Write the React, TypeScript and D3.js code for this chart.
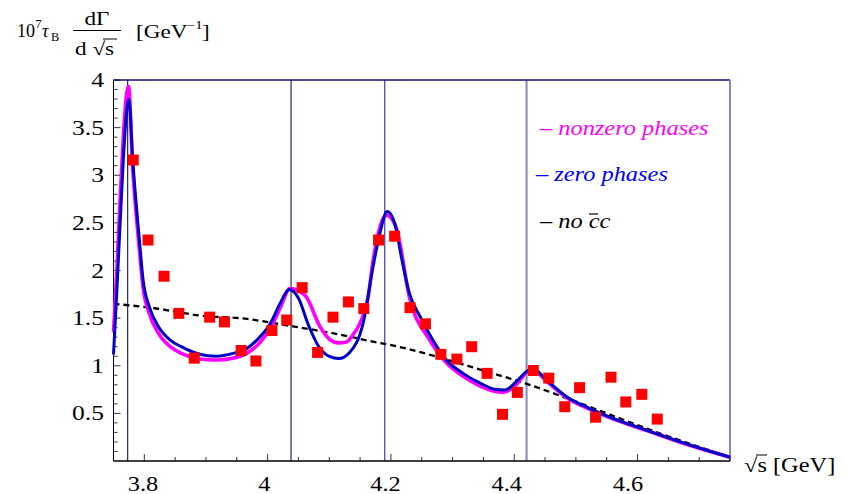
import React from "react";
import * as d3 from "d3";

// measured points (sqrt(s) in GeV, 10^7 tau_B dGamma/dsqrt(s))
const dataX = [3.782, 3.806, 3.832, 3.856, 3.881, 3.906, 3.930, 3.957, 3.981, 4.007, 4.031, 4.056, 4.081, 4.106, 4.131, 4.156, 4.180, 4.206, 4.231, 4.256, 4.281, 4.307, 4.331, 4.356, 4.381, 4.405, 4.431, 4.456, 4.482, 4.506, 4.532, 4.557, 4.581, 4.607, 4.632];
const dataY = [3.16, 2.32, 1.94, 1.55, 1.08, 1.51, 1.46, 1.16, 1.05, 1.37, 1.48, 1.82, 1.14, 1.51, 1.67, 1.60, 2.32, 2.36, 1.61, 1.44, 1.12, 1.07, 1.20, 0.92, 0.49, 0.72, 0.95, 0.87, 0.57, 0.77, 0.46, 0.88, 0.62, 0.70, 0.44];

// zero phases curve
const zeroX = [3.75, 3.7552, 3.7605, 3.7659, 3.7714, 3.7751, 3.781, 3.792, 3.798, 3.808, 3.823, 3.842, 3.86, 3.89, 3.915, 3.944, 3.966, 3.987, 4.005, 4.02, 4.035, 4.05, 4.066, 4.082, 4.101, 4.115, 4.133, 4.155, 4.171, 4.182, 4.194, 4.206, 4.217, 4.23, 4.247, 4.268, 4.29, 4.317, 4.344, 4.371, 4.385, 4.403, 4.42, 4.43, 4.452, 4.485, 4.522, 4.56, 4.614, 4.668, 4.711, 4.75];
const zeroY = [1.12, 1.76, 2.46, 3.16, 3.68, 3.80, 3.18, 2.32, 1.90, 1.62, 1.41, 1.27, 1.20, 1.12, 1.10, 1.13, 1.18, 1.30, 1.45, 1.65, 1.80, 1.71, 1.43, 1.21, 1.095, 1.075, 1.14, 1.45, 2.04, 2.39, 2.62, 2.50, 2.14, 1.76, 1.52, 1.27, 1.06, 0.92, 0.82, 0.75, 0.745, 0.83, 0.94, 0.97, 0.85, 0.675, 0.553, 0.448, 0.325, 0.203, 0.115, 0.04];

// nonzero phases curve
const phaseX = [3.75, 3.7552, 3.7605, 3.7659, 3.7714, 3.7745, 3.781, 3.792, 3.798, 3.808, 3.823, 3.842, 3.86, 3.89, 3.915, 3.944, 3.966, 3.987, 4.009, 4.022, 4.036, 4.045, 4.063, 4.085, 4.10, 4.115, 4.128, 4.139, 4.15, 4.163, 4.171, 4.187, 4.193, 4.209, 4.23, 4.263, 4.29, 4.317, 4.344, 4.37, 4.382, 4.403, 4.42, 4.43, 4.452, 4.485, 4.522, 4.56, 4.614, 4.668, 4.711, 4.75];
const phaseY = [1.35, 1.97, 2.71, 3.40, 3.86, 3.93, 3.10, 2.22, 1.82, 1.55, 1.34, 1.20, 1.13, 1.07, 1.06, 1.08, 1.13, 1.24, 1.45, 1.63, 1.81, 1.80, 1.72, 1.41, 1.28, 1.24, 1.25, 1.33, 1.45, 1.72, 2.10, 2.54, 2.58, 2.44, 1.72, 1.27, 1.03, 0.89, 0.79, 0.73, 0.72, 0.80, 0.93, 0.96, 0.84, 0.665, 0.545, 0.443, 0.322, 0.20, 0.113, 0.04];

// no c-cbar background
const bgX = [3.75, 3.81, 3.90, 3.955, 4.035, 4.13, 4.165, 4.19, 4.355, 4.42, 4.485, 4.55, 4.615, 4.69, 4.75];
const bgY = [1.65, 1.61, 1.52, 1.50, 1.42, 1.31, 1.26, 1.23, 0.94, 0.81, 0.66, 0.50, 0.34, 0.17, 0.04];

const resonances = [3.773, 4.038, 4.19, 4.42];
const xTicks = [3.8, 4, 4.2, 4.4, 4.6];
const yTicks = [0.5, 1, 1.5, 2, 2.5, 3, 3.5, 4];

const FONT = "'Liberation Serif', 'Times New Roman', serif";

const SText = ({ x, y, anchor = "start", size = 20, sx = 1.22, italic = false, fill = "#000", children }: any) => (
  <text
    transform={`translate(${x},${y}) scale(${sx},1)`}
    textAnchor={anchor}
    fontSize={size}
    fontStyle={italic ? "italic" : "normal"}
    fill={fill}
    fontFamily={FONT}
  >
    {children}
  </text>
);

export default function App() {
  const width = 846;
  const height = 494;
  const x = d3.scaleLinear().domain([3.75, 4.75]).range([113.5, 730]);
  const y = d3.scaleLinear().domain([0, 4]).range([461, 80]);
  // tick labels sit slightly left of their ticks in the original
  const xLab = d3.scaleLinear().domain([3.8, 4.6]).range([143, 628]);

  const line = d3
    .line<[number, number]>()
    .x((d) => x(d[0]))
    .y((d) => y(d[1]))
    .curve(d3.curveMonotoneX);

  const zip = (a: number[], b: number[]) => a.map((v, i) => [v, b[i]] as [number, number]);

  const xMinor = d3.range(3.75, 4.751, 0.05);
  const yMinor = d3.range(0.1, 4.001, 0.1);

  return (
    <svg
      width={width}
      height={height}
      style={{ position: "absolute", left: 0, top: 0, background: "#fff" }}
    >
      {/* resonance lines */}
      {resonances.map((r, i) => (
        <line
          key={i}
          x1={x(r)}
          x2={x(r)}
          y1={80}
          y2={461}
          stroke={i === 3 ? "#8585c8" : i === 2 ? "#2a2aa0" : "#10106e"}
          strokeWidth={i === 3 ? 2 : 1.1}
        />
      ))}
      {/* frame top and right */}
      <line x1={113.5} x2={730} y1={80} y2={80} stroke="#10106e" strokeWidth={1.5} />
      <line x1={730} x2={730} y1={80} y2={461} stroke="#8585c8" strokeWidth={2} />

      {/* axes */}
      <line x1={113.5} x2={113.5} y1={80} y2={461} stroke="#000" strokeWidth={1} />
      <line x1={113.5} x2={730} y1={461} y2={461} stroke="#000" strokeWidth={1.5} />
      {xMinor.map((t, i) => {
        const major = xTicks.some((m) => Math.abs(m - t) < 1e-6);
        return (
          <line key={i} x1={x(t)} x2={x(t)} y1={461} y2={461 - (major ? 7 : 4)} stroke="#000" strokeWidth={0.8} />
        );
      })}
      {yMinor.map((t, i) => {
        const major = yTicks.some((m) => Math.abs(m - t) < 1e-6);
        return (
          <line key={i} x1={113.5} x2={113.5 + (major ? 7 : 4)} y1={y(t)} y2={y(t)} stroke="#000" strokeWidth={0.8} />
        );
      })}
      {xTicks.map((t) => (
        <SText key={t} x={xLab(t)} y={491} anchor="middle">{String(t)}</SText>
      ))}
      {yTicks.map((t) => (
        <SText key={t} x={104} y={y(t) + 7} anchor="end" size={21}>{String(t)}</SText>
      ))}

      {/* curves */}
      <path d={line(zip(bgX, bgY)) || ""} fill="none" stroke="#000" strokeWidth={2.3} strokeDasharray="6 4" />
      <path d={line(zip(phaseX, phaseY)) || ""} fill="none" stroke="#ff00ff" strokeWidth={3.6} />
      <path d={line(zip(zeroX, zeroY)) || ""} fill="none" stroke="#0000c8" strokeWidth={3} />

      {/* data points */}
      {dataX.map((v, i) => (
        <rect key={i} x={x(v) - 5.5} y={y(dataY[i]) - 5.5} width={11} height={11} fill="#ff0000" />
      ))}

      {/* legend */}
      <SText x={540} y={135} italic fill="#ff00ff">– nonzero phases</SText>
      <SText x={536} y={181} italic fill="#0000ff">– zero phases</SText>
      <SText x={540} y={228} italic>– no cc</SText>
      <line x1={589} x2={598} y1={214} y2={214} stroke="#000" strokeWidth={1.2} />

      {/* y label */}
      <SText x={17} y={37} size={19} sx={0.95}>10</SText>
      <SText x={35.5} y={28} size={12} sx={1}>7</SText>
      <SText x={42} y={37} size={19} sx={0.95} italic>τ</SText>
      <SText x={51} y={41} size={13} sx={0.95}>B</SText>
      <SText x={97} y={25} size={19} anchor="middle">dΓ</SText>
      <line x1={73} x2={121} y1={30.5} y2={30.5} stroke="#000" strokeWidth={1} />
      <SText x={75} y={55} size={19}>d √s</SText>
      <line x1={103} x2={117} y1={39} y2={39} stroke="#000" strokeWidth={1} />
      <SText x={136} y={38} size={19}>[GeV</SText>
      <SText x={187} y={29} size={12}>−1</SText>
      <SText x={202} y={38} size={19}>]</SText>

      {/* x label */}
      <SText x={744} y={472} size={20}>√s [GeV]</SText>
      <line x1={756} x2={767} y1={455} y2={455} stroke="#000" strokeWidth={1} />
    </svg>
  );
}
